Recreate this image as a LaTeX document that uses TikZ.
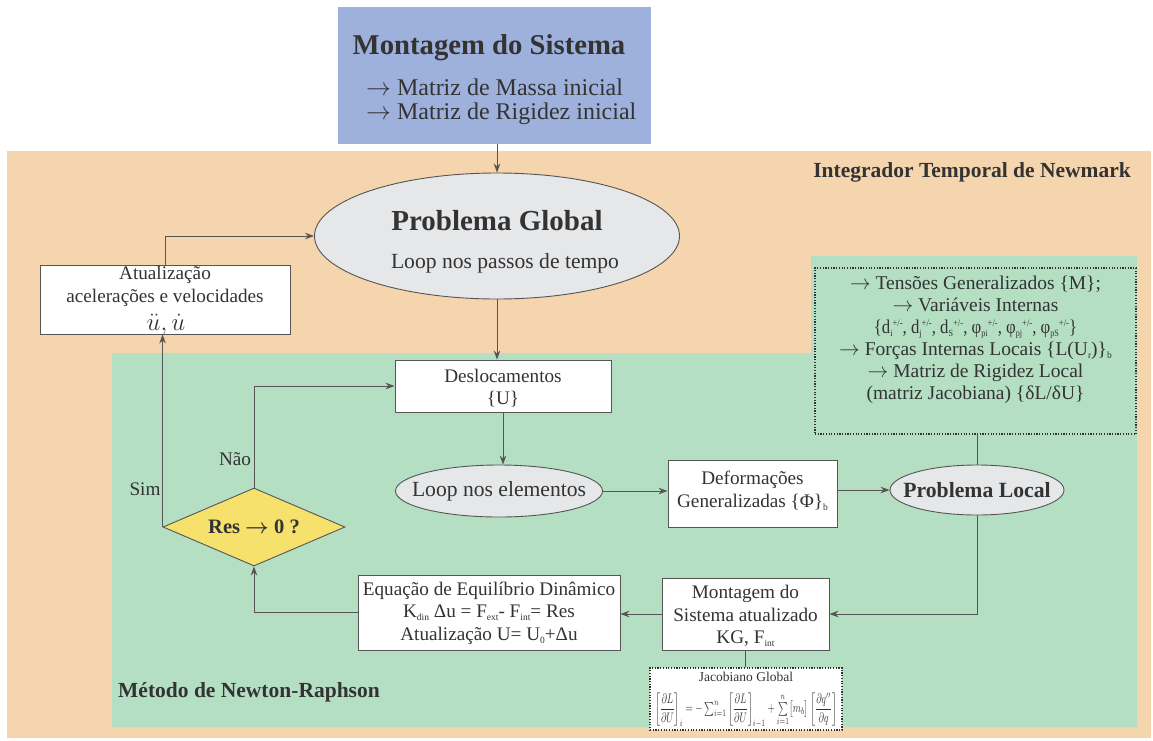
\documentclass[tikz,border=0pt]{standalone}
\usepackage{amsmath}
\usepackage{fontspec}
\usepackage{graphicx}
\setmainfont{Liberation Serif}
\usetikzlibrary{arrows.meta,shapes.geometric}

\definecolor{peach}{HTML}{F5D5AD}
\definecolor{mint}{HTML}{B4DFC3}
\definecolor{sky}{HTML}{9DB1DC}
\definecolor{fog}{HTML}{E6E7E9}
\definecolor{lemon}{HTML}{F5E16B}
\definecolor{ink}{HTML}{333333}
\definecolor{wire}{HTML}{555555}

\newcommand\fsz[2]{\fontsize{#1}{#2}\selectfont}
% small lowered / raised indices
\newcommand\lo[1]{\raisebox{-3pt}{\fsz{9.5}{9.5}#1}}
\newcommand\hi[1]{\raisebox{7.5pt}{\fsz{10}{10}#1}}
\newcommand\pmsup[1]{\lo{#1}\hi{+/-}}
\newcommand\ra{$\rightarrow$}

\tikzset{
  txt/.style={text=ink, font=\fsz{19.2}{22.5}, align=center, inner sep=0},
  whitebox/.style={draw=wire, line width=0.9, fill=white, inner sep=0},
  oval/.style={ellipse, draw=wire, line width=0.9, fill=fog, inner sep=0},
  dotbox/.style={draw=ink, line width=1.3, dash pattern=on 1.2 off 1.5, inner sep=0},
  arr/.style={draw=wire, line width=0.9, -{Stealth[length=9,width=6.5]}},
  wireline/.style={draw=wire, line width=0.9},
  header/.style={text=ink, font=\fsz{21.5}{24}\bfseries, inner sep=0},
}

\begin{document}
\begin{tikzpicture}[x=1pt,y=-1pt]
\useasboundingbox (0,0) rectangle (1153,740);

% background regions
\fill[peach] (7,151) rectangle (1151,738);
\fill[mint] (112,727) -- (112,353) -- (811,353) -- (811,256) -- (1137,256) -- (1137,727) -- cycle;

\node[header, anchor=east] (newmark) at (1131,172) {Integrador Temporal de Newmark};
\node[header, anchor=west] (newton) at (118,692) {Método de Newton-Raphson};

% system assembly
\node[fill=sky, minimum width=313, minimum height=137, inner sep=0] (sys) at (494.5,75.5) {};
\node[text=ink, font=\fsz{28.7}{32}\bfseries, inner sep=0] (systitle) at (489,48) {Montagem do Sistema};
\node[text=ink, font=\fsz{24}{27}, inner sep=0, anchor=west] (sysm) at (366,87) {\ra\ Matriz de Massa inicial};
\node[text=ink, font=\fsz{24}{27}, inner sep=0, anchor=west] (sysk) at (366,114) {\ra\ Matriz de Rigidez inicial};

% global problem
\node[oval, minimum width=365, minimum height=126] (pg) at (497,236) {};
\node[text=ink, font=\fsz{29}{32}\bfseries, inner sep=0] (pgt) at (497,221) {Problema Global};
\node[txt, font=\fsz{21.6}{25}] (pgs) at (505,263) {Loop nos passos de tempo};

% update of accelerations and velocities
\node[whitebox, minimum width=250, minimum height=69] (atu) at (165,299.5) {};
\node[txt] (atut) at (165,286.5) {Atualização\\acelerações e velocidades};
\node[text=ink, font=\fsz{24}{25}, inner sep=0] (atuv) at (166,325) {$\ddot{u},\dot{u}$};

% displacements
\node[whitebox, minimum width=216, minimum height=52] (desl) at (503,386) {};
\node[txt] (deslt) at (503,388) {Deslocamentos\\\{U\}};

% loop over elements
\node[oval, minimum width=207, minimum height=52] (le) at (499,491) {};
\node[txt, font=\fsz{21.6}{24}] (let) at (499,491) {Loop nos elementos};

% generalized deformations
\node[whitebox, minimum width=169, minimum height=67] (def) at (752.5,493.5) {};
\node[txt] (deft) at (752.5,491) {Deformações\\Generalizadas \{Φ\}\lo{b}};

% local problem
\node[oval, minimum width=174, minimum height=50] (pl) at (977,490) {};
\node[text=ink, font=\fsz{21.7}{24}\bfseries, inner sep=0] (plt) at (977,490) {Problema Local};

% local results
\node[dotbox, fill=mint, minimum width=321, minimum height=166] (dotb) at (975.5,351) {};
\node[txt, font=\fsz{19.5}{22}] (dott) at (975.5,340) {\ra\ Tensões Generalizados \{M\};\\
\ra\ Variáveis Internas\\
\scalebox{0.86}[1]{\{d\pmsup{i}, d\pmsup{j}, d\pmsup{S}, φ\pmsup{pi}, φ\pmsup{pj}, φ\pmsup{pS}\}}\\
\ra\ Forças Internas Locais \{L(U\lo{r})\}\lo{b}\\
\ra\ Matriz de Rigidez Local\\
(matriz Jacobiana) \{δL/δU\}};

% updated assembly
\node[whitebox, minimum width=167, minimum height=72] (mont) at (745.5,614) {};
\node[txt] (montt) at (745.5,616) {Montagem do\\Sistema atualizado\\KG, F\lo{int}};

% global jacobian
\node[dotbox, fill=white, minimum width=192, minimum height=62] (jac) at (746,699) {};
\node[text=ink, font=\fsz{13.5}{14}, inner sep=0] (jact) at (746,677) {Jacobiano Global};
\node[text=ink, inner sep=0] (jacf) at (746,710) {\resizebox*{182pt}{35pt}{$\left[\dfrac{\partial L}{\partial U}\right]_{i}=-\sum\nolimits_{i=1}^{n}\left[\dfrac{\partial L}{\partial U}\right]_{i-1}+\sum\limits_{i=1}^{n}\bigl[m_b\bigr]\left[\dfrac{\partial q''}{\partial q}\right]$}};

% dynamic equilibrium
\node[whitebox, minimum width=262, minimum height=75] (eq) at (489,612.5) {};
\node[txt] (eqt) at (489,613) {Equação de Equilíbrio Dinâmico\\
K\lo{din} Δu = F\lo{ext}- F\lo{int}= Res\\
Atualização U= U\lo{0}+Δu};

% convergence test
\node[diamond, draw=wire, line width=0.9, fill=lemon, minimum width=182, minimum height=78, aspect=2.33, inner sep=0] (dia) at (254,527) {};
\node[text=ink, font=\fsz{20.5}{24}\bfseries, inner sep=0] (diat) at (254,527) {Res {\boldmath\ra} 0 ?};

\node[txt] (nao) at (235,459) {Não};
\node[txt] (sim) at (145,489) {Sim};

% connectors
\draw[arr] (pg.north |- sys.south) -- (pg.north);
\draw[arr] (atu.north) |- (pg.west);
\draw[arr] (pg.south) -- (pg.south |- desl.north);
\draw[arr] (desl.south) -- (desl.south |- le.north);
\draw[arr] (le.east) -- (le.east -| def.west);
\draw[arr] (def.east |- pl.west) -- (pl.west);
\draw[wireline] (pl.north) -- (pl.north |- dotb.south);
\draw[arr] (pl.south) |- (mont.east);
\draw[wireline] (mont.south) -- (mont.south |- jac.north);
\draw[arr] (mont.west) -- (mont.west -| eq.east);
\draw[arr] (eq.west) -| (dia.south);
\draw[arr] (dia.north) |- (desl.west);
\draw[arr] (dia.west) -- (dia.west |- atu.south);
\end{tikzpicture}
\end{document}
